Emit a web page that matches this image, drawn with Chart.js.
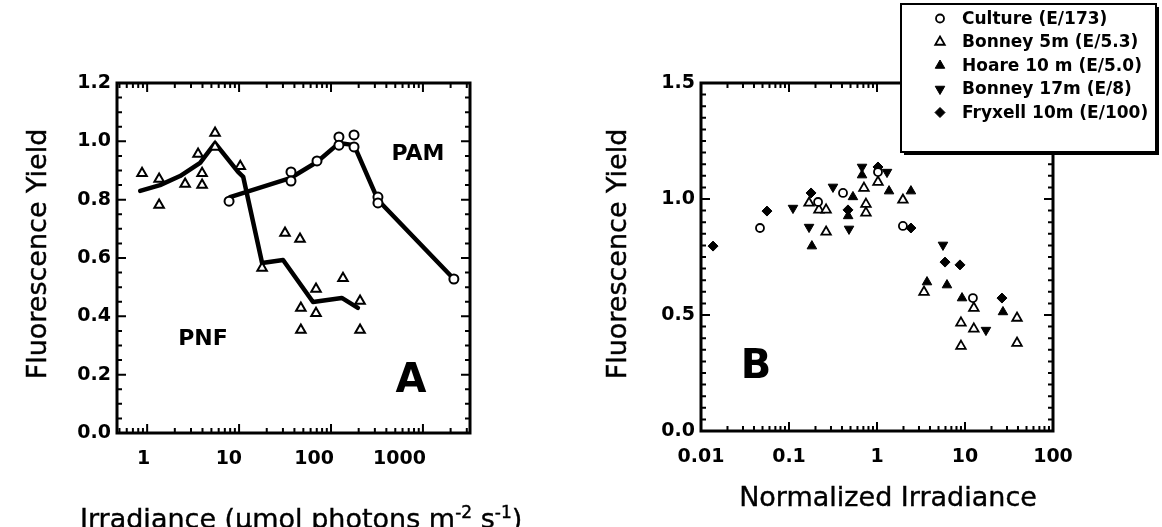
<!DOCTYPE html>
<html>
<head>
    <title>Fluorescence Yield vs Irradiance</title>
    <script src="https://cdn.jsdelivr.net/npm/chart.js"></script>
    <style>
        body { margin: 0; background: #fff; width: 1162px; height: 527px; position: relative; overflow: hidden; font-family: "DejaVu Sans", sans-serif; }
        canvas { position: absolute; top: 0; }
        .txt { position: absolute; white-space: nowrap; color: #000; }
        .titulo { font-size: 27px; line-height: 27px; -webkit-text-stroke: 0.4px #000; }
        .vert { width: 320px; height: 34px; line-height: 34px; text-align: center; transform: rotate(-90deg); }
        .marca { font-weight: bold; text-align: center; }
    </style>
</head>
<body>
    <canvas id="graficoA" width="560" height="527" style="left:0"></canvas>
    <canvas id="graficoB" width="602" height="527" style="left:560px"></canvas>

    <div class="txt titulo vert" style="left:-123px; top:237px">Fluorescence Yield</div>
    <div class="txt titulo vert" style="left:457px; top:237px">Fluorescence Yield</div>
    <div class="txt titulo" style="left:80px; top:499px">Irradiance (µmol photons m<sup style="font-size:17px">-2</sup> s<sup style="font-size:17px">-1</sup>)</div>
    <div class="txt titulo" style="left:688px; width:400px; text-align:center; top:483px">Normalized Irradiance</div>

    <div class="txt marca" style="left:153px; width:100px; top:327px; font-size:22px; line-height:22px">PNF</div>
    <div class="txt marca" style="left:368px; width:100px; top:142px; font-size:22px; line-height:22px">PAM</div>
    <div class="txt marca" style="left:381px; width:60px; top:358px; font-size:40px; line-height:40px">A</div>
    <div class="txt marca" style="left:726px; width:60px; top:344px; font-size:40px; line-height:40px">B</div>

    <script>
        // ---- painel A: irradiância absoluta
        const pnfIrr   = [0.88, 1.35, 1.35, 2.59, 3.58, 3.96, 3.96, 5.48, 5.48, 10.3, 17.8, 31.6, 46, 47, 47, 68.7, 68.7, 135, 207, 207];
        const pnfYield = [0.891, 0.871, 0.782, 0.854, 0.957, 0.891, 0.850, 1.029, 0.981, 0.915, 0.566, 0.686, 0.665, 0.429, 0.353, 0.494, 0.411, 0.531, 0.453, 0.353];
        const pnfLinhaIrr   = [0.84, 1.38, 2.28, 3.77, 5.48, 9.75, 11.1, 17.8, 30.1, 63.7, 131, 196];
        const pnfLinhaYield = [0.830, 0.850, 0.881, 0.926, 0.994, 0.895, 0.878, 0.583, 0.593, 0.449, 0.463, 0.429];

        const pamIrr   = [7.78, 36.7, 36.7, 70.4, 122, 122, 178, 178, 324, 324, 2170];
        const pamYield = [0.795, 0.895, 0.864, 0.933, 1.015, 0.987, 1.022, 0.981, 0.809, 0.789, 0.528];
        const pamLinhaIrr   = [7.97, 36.7, 70.4, 122, 178, 324, 2170];
        const pamLinhaYield = [0.809, 0.875, 0.929, 0.994, 0.987, 0.799, 0.528];

        const ticksA = [1, 10, 100, 1000];

        // ---- painel B: irradiância normalizada
        const cultureX = [0.0468, 0.214, 0.411, 1.026, 1.97, 12.3];
        const cultureY = [0.875, 0.987, 1.026, 1.116, 0.884, 0.573];

        const bonney5X = [0.169, 0.219, 0.264, 0.264, 0.711, 0.749, 0.749, 1.026, 1.97, 3.42, 12.6, 9.0, 12.6, 9.0, 39.0, 39.0];
        const bonney5Y = [0.983, 0.953, 0.953, 0.858, 1.047, 0.978, 0.940, 1.073, 0.996, 0.599, 0.530, 0.466, 0.440, 0.366, 0.487, 0.379];

        const hoareX = [0.182, 0.533, 0.676, 1.37, 2.43, 3.70, 6.24, 9.25, 27.0, 0.47];
        const hoareY = [0.797, 1.009, 1.103, 1.034, 1.034, 0.642, 0.629, 0.573, 0.513, 0.927];

        const bonney17X = [0.111, 0.169, 0.316, 0.481, 0.676, 1.30, 5.62, 17.3];
        const bonney17Y = [0.961, 0.879, 1.052, 0.871, 1.138, 1.116, 0.802, 0.435];

        const fryxellX = [0.0137, 0.0562, 0.178, 0.468, 1.026, 2.43, 5.93, 8.77, 26.3];
        const fryxellY = [0.797, 0.948, 1.026, 0.953, 1.138, 0.875, 0.728, 0.716, 0.573];

        const ticksB = [0.01, 0.1, 1, 10, 100];

        const pares = (xs, ys) => xs.map((v, i) => ({ x: v, y: ys[i] }));

        Chart.defaults.font.family = 'DejaVu Sans';
        Chart.defaults.color = '#000';

        const fonteTick = { family: 'DejaVu Sans', size: 19, weight: 'bold' };

        function rotuloLog(lista) {
            return v => {
                const hit = lista.find(t => Math.abs(Math.log10(v) - Math.log10(t)) < 1e-6);
                return hit === undefined ? '' : String(hit);
            };
        }

        // moldura com marcas voltadas para dentro
        const moldura = {
            id: 'moldura',
            beforeDatasetsDraw(chart, args, opts) {
                const { ctx, chartArea: a } = chart;
                const x = chart.scales.x, y = chart.scales.y;
                ctx.save();
                ctx.strokeStyle = '#000';
                ctx.lineWidth = 2;
                ctx.beginPath();
                const e0 = Math.floor(Math.log10(x.min)), e1 = Math.ceil(Math.log10(x.max));
                for (let e = e0; e <= e1; e++) {
                    for (let m = 1; m <= 9; m++) {
                        const v = m * Math.pow(10, e);
                        if (v < x.min * 0.999 || v > x.max * 1.001) continue;
                        const px = x.getPixelForValue(v);
                        const len = m === 1 ? 9 : 5;
                        ctx.moveTo(px, a.bottom); ctx.lineTo(px, a.bottom - len);
                        ctx.moveTo(px, a.top); ctx.lineTo(px, a.top + len);
                    }
                }
                const n = Math.round((y.max - y.min) / opts.passo);
                for (let i = 0; i <= n; i++) {
                    const py = y.getPixelForValue(y.min + i * opts.passo);
                    const len = i % opts.maior === 0 ? 9 : 5;
                    ctx.moveTo(a.left, py); ctx.lineTo(a.left + len, py);
                    ctx.moveTo(a.right, py); ctx.lineTo(a.right - len, py);
                }
                ctx.stroke();
                ctx.lineWidth = 3;
                ctx.strokeRect(a.left, a.top, a.right - a.left, a.bottom - a.top);
                ctx.restore();
            }
        };

        // legenda desenhada por cima do canto do painel B
        const legendaB = {
            id: 'legendaB',
            afterDraw(chart) {
                const ctx = chart.ctx;
                const bx = 341, by = 4, bw = 255, bh = 148;
                ctx.save();
                ctx.fillStyle = '#000';
                ctx.fillRect(bx + 3, by + 3, bw, bh);
                ctx.fillStyle = '#fff';
                ctx.fillRect(bx, by, bw, bh);
                ctx.lineWidth = 2;
                ctx.strokeStyle = '#000';
                ctx.strokeRect(bx, by, bw, bh);
                ctx.font = 'bold 17px "DejaVu Sans"';
                ctx.textBaseline = 'middle';
                chart.data.datasets.forEach((ds, i) => {
                    const cy = 18.5 + i * 23.5;
                    ctx.fillStyle = ds.backgroundColor;
                    ctx.strokeStyle = '#000';
                    ctx.lineWidth = ds.borderWidth;
                    Chart.helpers.drawPoint(ctx, {
                        pointStyle: ds.pointStyle, rotation: ds.rotation || 0,
                        radius: ds.pointRadius, borderWidth: ds.borderWidth
                    }, 380, cy);
                    ctx.fillStyle = '#000';
                    ctx.fillText(ds.label, 402, cy + 1);
                });
                ctx.restore();
            }
        };

        function opcoes(cfg) {
            return {
                responsive: false,
                animation: false,
                events: [],
                layout: { padding: cfg.padding },
                plugins: { legend: { display: false }, tooltip: { enabled: false }, moldura: cfg.moldura },
                scales: {
                    x: {
                        type: 'logarithmic', min: cfg.xMin, max: cfg.xMax,
                        grid: { display: false, drawTicks: false }, border: { display: false },
                        afterFit: s => { s.height = cfg.xAltura; },
                        afterBuildTicks: s => { s.ticks = cfg.xTicks.map(v => ({ value: v })); },
                        ticks: { font: fonteTick, padding: 15, autoSkip: false, maxRotation: 0, align: cfg.xAlign, labelOffset: cfg.xDesloc, callback: rotuloLog(cfg.xTicks) }
                    },
                    y: {
                        min: 0, max: cfg.yMax,
                        grid: { display: false, drawTicks: false }, border: { display: false },
                        afterFit: s => { s.width = cfg.yLargura; },
                        ticks: { font: fonteTick, padding: 6, stepSize: cfg.yPasso, callback: v => v.toFixed(1) }
                    }
                }
            };
        }

        new Chart(document.getElementById('graficoA'), {
            type: 'scatter',
            data: {
                datasets: [
                    { label: 'PNF', data: pares(pnfIrr, pnfYield), pointStyle: 'triangle', pointRadius: 5.5, borderWidth: 2, borderColor: '#000', backgroundColor: '#fff' },
                    { label: 'PAM', data: pares(pamIrr, pamYield), pointStyle: 'circle', pointRadius: 4.5, borderWidth: 2, borderColor: '#000', backgroundColor: '#fff' },
                    { label: 'PNF linha', data: pares(pnfLinhaIrr, pnfLinhaYield), showLine: true, pointRadius: 0, borderWidth: 4.5, borderColor: '#000', borderJoinStyle: 'round', borderCapStyle: 'round' },
                    { label: 'PAM linha', data: pares(pamLinhaIrr, pamLinhaYield), showLine: true, pointRadius: 0, borderWidth: 4.5, borderColor: '#000', borderJoinStyle: 'round', borderCapStyle: 'round' }
                ]
            },
            options: opcoes({
                padding: { top: 83, left: 0, right: 90, bottom: 0 },
                xMin: 0.47, xMax: 3250, xAltura: 94, xTicks: ticksA, xAlign: 'end', xDesloc: 3,
                yMax: 1.2, yLargura: 117, yPasso: 0.2,
                moldura: { passo: 0.05, maior: 4 }
            }),
            plugins: [moldura]
        });

        new Chart(document.getElementById('graficoB'), {
            type: 'scatter',
            data: {
                datasets: [
                    { label: 'Culture (E/173)', data: pares(cultureX, cultureY), pointStyle: 'circle', pointRadius: 4, borderWidth: 1.8, borderColor: '#000', backgroundColor: '#fff' },
                    { label: 'Bonney 5m (E/5.3)', data: pares(bonney5X, bonney5Y), pointStyle: 'triangle', pointRadius: 5.5, borderWidth: 1.8, borderColor: '#000', backgroundColor: '#fff' },
                    { label: 'Hoare 10 m (E/5.0)', data: pares(hoareX, hoareY), pointStyle: 'triangle', pointRadius: 5.5, borderWidth: 1, borderColor: '#000', backgroundColor: '#000' },
                    { label: 'Bonney 17m (E/8)', data: pares(bonney17X, bonney17Y), pointStyle: 'triangle', rotation: 180, pointRadius: 5.5, borderWidth: 1, borderColor: '#000', backgroundColor: '#000' },
                    { label: 'Fryxell 10m (E/100)', data: pares(fryxellX, fryxellY), pointStyle: 'rectRot', pointRadius: 5, borderWidth: 1, borderColor: '#000', backgroundColor: '#000' }
                ]
            },
            options: opcoes({
                padding: { top: 83, left: 0, right: 109, bottom: 0 },
                xMin: 0.01, xMax: 100, xAltura: 96, xTicks: ticksB, xAlign: 'center', xDesloc: 0,
                yMax: 1.5, yLargura: 141, yPasso: 0.5,
                moldura: { passo: 0.05, maior: 10 }
            }),
            plugins: [moldura, legendaB]
        });
    </script>
</body>
</html>
